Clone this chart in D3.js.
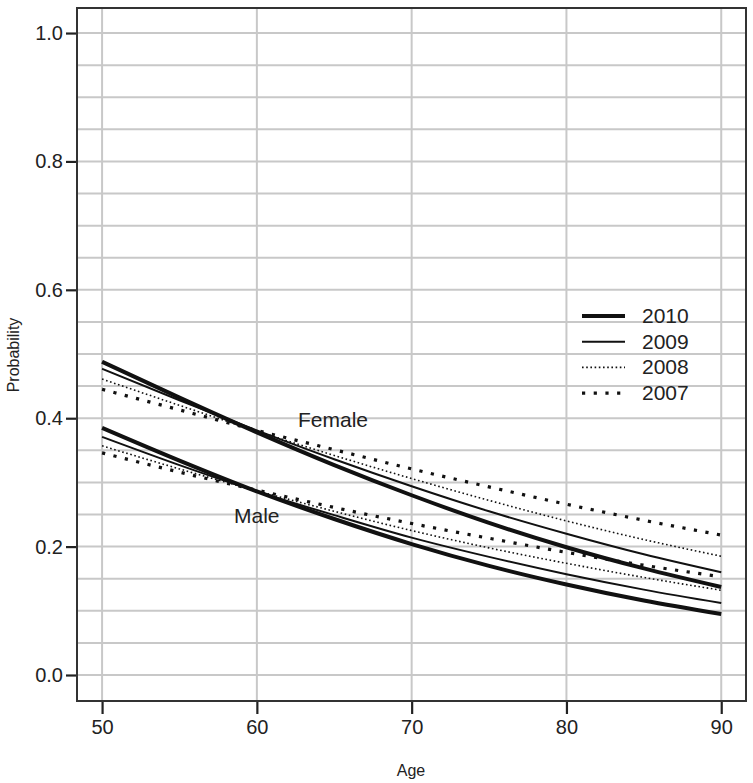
<!DOCTYPE html>
<html><head><meta charset="utf-8">
<script src="https://cdn.jsdelivr.net/npm/d3@7/dist/d3.min.js"></script>
<style>body{margin:0;background:#fff;} text{font-family:"Liberation Sans",Arial,sans-serif;fill:#222;}</style>
</head><body><svg id="c" width="753" height="783"></svg>
<script>
const ages = [50,55,60,65,70,75,80,85,90];
const years = ["2010","2009","2008","2007"];
const female2010 = [0.488,0.432,0.378,0.327,0.280,0.237,0.199,0.166,0.137];
const female2009 = [0.477,0.428,0.381,0.336,0.294,0.255,0.220,0.188,0.160];
const female2008 = [0.461,0.420,0.380,0.342,0.306,0.272,0.240,0.211,0.185];
const female2007 = [0.445,0.413,0.381,0.351,0.321,0.293,0.266,0.241,0.218];
const male2010 = [0.385,0.334,0.286,0.243,0.204,0.170,0.141,0.116,0.095];
const male2009 = [0.371,0.327,0.286,0.249,0.214,0.184,0.157,0.133,0.112];
const male2008 = [0.357,0.321,0.287,0.255,0.225,0.198,0.174,0.152,0.132];
const male2007 = [0.346,0.316,0.288,0.261,0.236,0.213,0.191,0.171,0.153];
const xTicks = [50,60,70,80,90];
const yTicks = [0.0,0.2,0.4,0.6,0.8,1.0];
const yGrid = d3.range(0,21).map(i=>i*0.05);

const styles = {
  "2010": {w:4, dash:null},
  "2009": {w:2, dash:null},
  "2008": {w:1.6, dash:"1.6,2.6"},
  "2007": {w:3.2, dash:"3.2,8.5"}
};
const series = [
  {y:"2010",v:female2010},{y:"2009",v:female2009},{y:"2008",v:female2008},{y:"2007",v:female2007},
  {y:"2010",v:male2010},{y:"2009",v:male2009},{y:"2008",v:male2008},{y:"2007",v:male2007}
];

const svg = d3.select("#c");
const L=77,R=746,T=8,B=701;
const x = d3.scaleLinear().domain([48.38,91.6]).range([L,R]);
const y = d3.scaleLinear().domain([-0.0405,1.039]).range([B,T]);

const g = svg.append("g");
g.selectAll(".hg").data(yGrid).enter().append("line")
  .attr("x1",L).attr("x2",R).attr("y1",d=>y(d)).attr("y2",d=>y(d))
  .attr("stroke","#c8c8c8").attr("stroke-width",2);
g.selectAll(".vg").data(xTicks).enter().append("line")
  .attr("x1",d=>x(d)).attr("x2",d=>x(d)).attr("y1",T).attr("y2",B)
  .attr("stroke","#c8c8c8").attr("stroke-width",2);

const line = d3.line().x((d,i)=>x(ages[i])).y(d=>y(d)).curve(d3.curveMonotoneX);
series.forEach(s=>{
  const st = styles[s.y];
  g.append("path").attr("d",line(s.v)).attr("fill","none")
   .attr("stroke","#111").attr("stroke-width",st.w)
   .attr("stroke-dasharray",st.dash);
});

svg.append("rect").attr("x",L).attr("y",T).attr("width",R-L).attr("height",B-T)
  .attr("fill","none").attr("stroke","#333").attr("stroke-width",2);

const yAxis = d3.axisLeft(y).tickValues(yTicks).tickFormat(d3.format(".1f")).tickSize(10).tickPadding(3);
const ya = svg.append("g").attr("transform",`translate(${L-1},0)`).call(yAxis);
ya.select(".domain").remove();
ya.selectAll("line").attr("stroke","#222").attr("stroke-width",2.2);
ya.selectAll("text").attr("font-size",20).style("fill","#222");

const xAxis = d3.axisBottom(x).tickValues(xTicks).tickFormat(d3.format("d")).tickSize(12).tickPadding(6);
const xa = svg.append("g").attr("transform",`translate(0,${B+1})`).call(xAxis);
xa.select(".domain").remove();
xa.selectAll("line").attr("stroke","#222").attr("stroke-width",2.2);
xa.selectAll("text").attr("font-size",20).style("fill","#222");

svg.append("text").attr("x",411).attr("y",776).attr("text-anchor","middle").attr("font-size",16).text("Age");
svg.append("text").attr("transform","translate(19,355) rotate(-90)").attr("text-anchor","middle").attr("font-size",16).text("Probability");

svg.append("text").attr("x",298).attr("y",427).attr("font-size",21).text("Female");
svg.append("text").attr("x",234).attr("y",523).attr("font-size",21).text("Male");

const lg = svg.append("g");
years.forEach((yr,i)=>{
  const yy = 316 + i*25.7;
  const st = styles[yr];
  lg.append("line").attr("x1",582).attr("x2",625).attr("y1",yy).attr("y2",yy)
    .attr("stroke","#111").attr("stroke-width",st.w).attr("stroke-dasharray",st.dash);
  lg.append("text").attr("x",642).attr("y",yy+7).attr("font-size",21).text(yr);
});
</script></body></html>
